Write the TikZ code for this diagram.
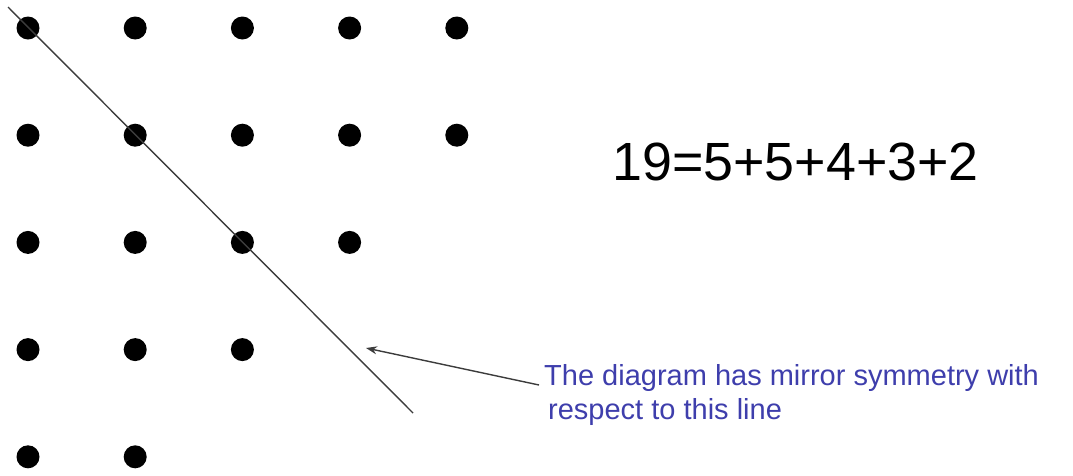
\documentclass[tikz,border=0pt]{standalone}
\usepackage{fontspec}
\setmainfont{Liberation Sans}
\usetikzlibrary{arrows.meta}
\definecolor{noteblue}{RGB}{62,62,172}
\definecolor{linegrey}{RGB}{60,60,60}
\begin{document}
\begin{tikzpicture}[x=1pt,y=-1pt,
  dot/.style={circle,fill=black,inner sep=0pt,minimum size=23pt},
  note/.style={text=noteblue,font=\fontsize{29}{34}\selectfont,inner sep=0pt,anchor=base west}]
\useasboundingbox (0,0) rectangle (1073,475);
\foreach \r/\n in {1/5,2/5,3/4,4/3,5/2}{
  \foreach \c in {1,...,\n}{
    \node[dot] (d\r\c) at ({28+107.2*(\c-1)},{28+107.2*(\r-1)}) {};
  }
}
\coordinate (lA) at (8,7);
\coordinate (lB) at (413,413);
\draw[linegrey,line width=1.4pt] (lA) -- (lB);
\coordinate (tip) at (366,348);
\node[note] (n1) at (544,385) {The diagram has mirror symmetry with};
\node[note] (n2) at (548,419) {respect to this line};
\coordinate (tail) at (539,385);
\draw[linegrey,line width=1.4pt,-{Stealth[length=11pt,width=8pt]}] (tail) -- (tip);
\node[inner sep=0pt,anchor=base west,font=\fontsize{53.8}{60}\selectfont] (eq) at (612,180) {19=5+5+4+3+2};
\end{tikzpicture}
\end{document}
